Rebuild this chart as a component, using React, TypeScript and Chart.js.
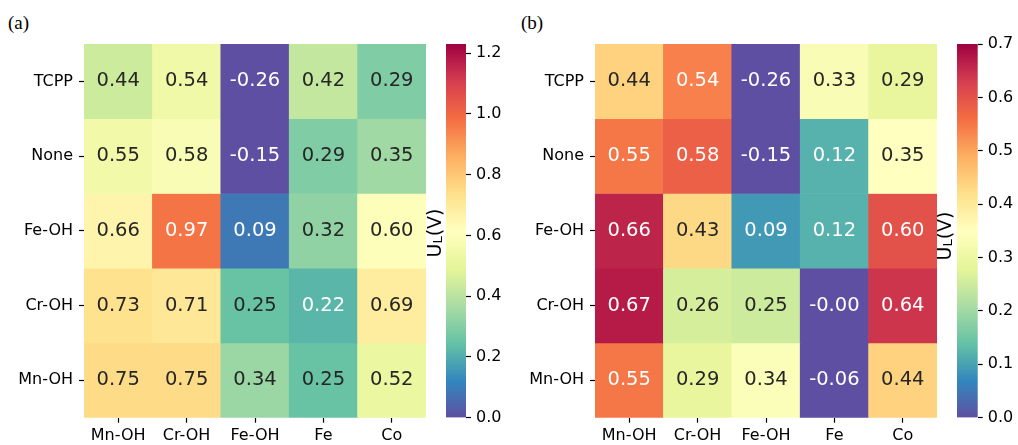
import React, { useEffect, useRef } from "react";
import { Chart, registerables } from "chart.js";

Chart.register(...registerables);

// ---------- data ----------
const ROWS = ["TCPP", "None", "Fe-OH", "Cr-OH", "Mn-OH"];
const COLS = ["Mn-OH", "Cr-OH", "Fe-OH", "Fe", "Co"];

const VALUES_A = [
  [0.44, 0.54, -0.26, 0.42, 0.29],
  [0.55, 0.58, -0.15, 0.29, 0.35],
  [0.66, 0.97, 0.09, 0.32, 0.6],
  [0.73, 0.71, 0.25, 0.22, 0.69],
  [0.75, 0.75, 0.34, 0.25, 0.52],
];

const VALUES_B = [
  [0.44, 0.54, -0.26, 0.33, 0.29],
  [0.55, 0.58, -0.15, 0.12, 0.35],
  [0.66, 0.43, 0.09, 0.12, 0.6],
  [0.67, 0.26, 0.25, -0.001, 0.64],
  [0.55, 0.29, 0.34, -0.06, 0.44],
];

const VMAX_A = 1.23;
const VMAX_B = 0.7;
const CB_TICKS_A = [0, 0.2, 0.4, 0.6, 0.8, 1.0, 1.2];
const CB_TICKS_B = [0, 0.1, 0.2, 0.3, 0.4, 0.5, 0.6, 0.7];
const CB_LABEL_MAIN = "U";
const CB_LABEL_SUB = "L";
const CB_LABEL_TAIL = "(V)";

// Spectral_r
const SPECTRAL_R = [
  "#5e4fa2", "#3288bd", "#66c2a5", "#abdda4", "#e6f598", "#ffffbf",
  "#fee08b", "#fdae61", "#f46d43", "#d53e4f", "#9e0142",
];

// ---------- helpers ----------
function hexToRgb(h: string): number[] {
  return [1, 3, 5].map((i) => parseInt(h.slice(i, i + 2), 16));
}
const STOPS = SPECTRAL_R.map(hexToRgb);

function cmapRgb(v: number, vmax: number): number[] {
  let t = v / vmax;
  if (t < 0) t = 0;
  if (t > 1) t = 1;
  const p = t * (STOPS.length - 1);
  const i = Math.min(Math.floor(p), STOPS.length - 2);
  const f = p - i;
  const a = STOPS[i];
  const b = STOPS[i + 1];
  return [0, 1, 2].map((k) => a[k] + (b[k] - a[k]) * f);
}
function rgbStr(c: number[]) {
  return `rgb(${Math.round(c[0])},${Math.round(c[1])},${Math.round(c[2])})`;
}
function luminance(c: number[]) {
  const lin = c.map((x) => {
    const s = x / 255;
    return s <= 0.03928 ? s / 12.92 : Math.pow((s + 0.055) / 1.055, 2.4);
  });
  return 0.2126 * lin[0] + 0.7152 * lin[1] + 0.0722 * lin[2];
}

const SANS = "'DejaVu Sans', sans-serif";
const TICK_SIZE = 16;
const ANNOT_SIZE = 19.5;

// ---------- heatmap ----------
type HeatProps = {
  values: number[][];
  vmax: number;
  left: number;
  width: number;
  yAxisWidth: number;
  padRight: number;
};

function Heatmap({ values, vmax, left, width, yAxisWidth, padRight }: HeatProps) {
  const ref = useRef<HTMLCanvasElement>(null);
  useEffect(() => {
    const n = ROWS.length;
    const datasets = ROWS.map((_, r) => {
      const level = n - 1 - r;
      return {
        data: COLS.map(() => [level, level + 1]),
        backgroundColor: values[r].map((v) => rgbStr(cmapRgb(v, vmax))),
        borderWidth: 0,
        barPercentage: 1,
        categoryPercentage: 1,
        grouped: false,
      };
    });
    const annot = {
      id: "annot",
      afterDatasetsDraw(chart: any) {
        const ctx = chart.ctx;
        ctx.save();
        ctx.font = `${ANNOT_SIZE}px ${SANS}`;
        ctx.textAlign = "center";
        ctx.textBaseline = "alphabetic";
        chart.data.datasets.forEach((_: any, r: number) => {
          const meta = chart.getDatasetMeta(r);
          meta.data.forEach((el: any, c: number) => {
            const v = values[r][c];
            const col = cmapRgb(v, vmax);
            ctx.fillStyle = luminance(col) > 0.408 ? "#262626" : "#ffffff";
            const cy = (el.y + el.base) / 2;
            ctx.fillText(v.toFixed(2), el.x, cy + 0.364 * ANNOT_SIZE - 2);
          });
        });
        ctx.restore();
      },
    };
    const chart = new Chart(ref.current as HTMLCanvasElement, {
      type: "bar",
      data: { labels: COLS, datasets: datasets as any },
      options: {
        animation: false,
        responsive: false,
        maintainAspectRatio: false,
        layout: { padding: { top: 44, right: padRight, bottom: 0, left: 0 } },
        plugins: { legend: { display: false }, tooltip: { enabled: false } },
        scales: {
          x: {
            type: "category",
            grid: {
              offset: false,
              drawOnChartArea: false,
              tickLength: 5,
              tickColor: "#000",
              tickWidth: 1.2,
            },
            border: { display: false },
            ticks: {
              color: "#000",
              font: { family: SANS, size: TICK_SIZE },
              padding: 4,
              maxRotation: 0,
              autoSkip: false,
            },
            afterFit: (s: any) => {
              s.height = 27.3;
            },
          },
          y: {
            type: "linear",
            min: 0,
            max: n,
            afterBuildTicks: (s: any) => {
              s.ticks = ROWS.map((_, i) => ({ value: i + 0.5 }));
            },
            grid: {
              drawOnChartArea: false,
              tickLength: 5,
              tickColor: "#000",
              tickWidth: 1.2,
            },
            border: { display: false },
            ticks: {
              color: "#000",
              font: { family: SANS, size: TICK_SIZE },
              padding: 6,
              autoSkip: false,
              callback: (_v: any, i: number) => ROWS[n - 1 - i],
            },
            afterFit: (s: any) => {
              s.width = yAxisWidth;
            },
          },
        } as any,
      },
      plugins: [annot],
    });
    return () => chart.destroy();
  }, []);
  return (
    <canvas
      ref={ref}
      width={width}
      height={445}
      style={{ position: "absolute", left, top: 0, width, height: 445 }}
    />
  );
}

// ---------- colorbar ----------
type CbProps = {
  vmax: number;
  ticks: number[];
  left: number;
  width: number;
  axisWidth: number;
  labelBaseX: number;
  labelCy: number;
};

function Colorbar({ vmax, ticks, left, width, axisWidth, labelBaseX, labelCy }: CbProps) {
  const ref = useRef<HTMLCanvasElement>(null);
  useEffect(() => {
    const labelPlugin = {
      id: "cblabel",
      afterDraw(chart: any) {
        const ctx = chart.ctx;
        ctx.save();
        const big = `19px ${SANS}`;
        const small = `13px ${SANS}`;
        ctx.font = big;
        const wU = ctx.measureText(CB_LABEL_MAIN).width;
        const wT = ctx.measureText(CB_LABEL_TAIL).width;
        ctx.font = small;
        const wL = ctx.measureText(CB_LABEL_SUB).width;
        const total = wU + wL + wT;
        ctx.translate(labelBaseX, labelCy);
        ctx.rotate(-Math.PI / 2);
        ctx.fillStyle = "#000";
        ctx.textBaseline = "alphabetic";
        ctx.textAlign = "left";
        let x = -total / 2;
        ctx.font = big;
        ctx.fillText(CB_LABEL_MAIN, x, 0);
        x += wU;
        ctx.font = small;
        ctx.fillText(CB_LABEL_SUB, x, 1.5);
        x += wL;
        ctx.font = big;
        ctx.fillText(CB_LABEL_TAIL, x, 0);
        ctx.restore();
      },
    };
    const chart = new Chart(ref.current as HTMLCanvasElement, {
      type: "bar",
      data: {
        labels: [""],
        datasets: [
          {
            data: [[0, vmax]] as any,
            backgroundColor: (c: any) => {
              const ca = c.chart.chartArea;
              if (!ca) return SPECTRAL_R[0];
              const g = c.chart.ctx.createLinearGradient(0, ca.bottom, 0, ca.top);
              SPECTRAL_R.forEach((col, i) => g.addColorStop(i / (SPECTRAL_R.length - 1), col));
              return g;
            },
            borderWidth: 0,
            barPercentage: 1,
            categoryPercentage: 1,
          },
        ],
      },
      options: {
        animation: false,
        responsive: false,
        maintainAspectRatio: false,
        layout: { padding: { top: 44, right: 0, bottom: 27.3, left: 20 } },
        plugins: { legend: { display: false }, tooltip: { enabled: false } },
        scales: {
          x: { display: false },
          y: {
            position: "right",
            min: 0,
            max: vmax,
            afterBuildTicks: (s: any) => {
              s.ticks = ticks.map((v) => ({ value: v }));
            },
            grid: {
              drawOnChartArea: false,
              tickLength: 5,
              tickColor: "#000",
              tickWidth: 1.2,
            },
            border: { display: false },
            ticks: {
              color: "#000",
              font: { family: SANS, size: TICK_SIZE },
              padding: 5,
              autoSkip: false,
              callback: (v: any) => Number(v).toFixed(1),
            },
            afterFit: (s: any) => {
              s.width = axisWidth;
            },
          },
        } as any,
      },
      plugins: [labelPlugin],
    });
    return () => chart.destroy();
  }, []);
  return (
    <canvas
      ref={ref}
      width={width}
      height={445}
      style={{ position: "absolute", left, top: 0, width, height: 445 }}
    />
  );
}

const titleStyle: React.CSSProperties = {
  position: "absolute",
  top: 13,
  fontFamily: "'Liberation Serif', 'Times New Roman', serif",
  fontSize: 19,
  lineHeight: "19px",
  color: "#000",
  whiteSpace: "nowrap",
};

export default function App() {
  return (
    <div
      style={{
        position: "absolute",
        left: 0,
        top: 0,
        width: 1018,
        height: 445,
        background: "#fff",
        overflow: "hidden",
      }}
    >
      <div style={{ ...titleStyle, left: 8 }}>(a)</div>
      <div style={{ ...titleStyle, left: 521 }}>(b)</div>
      <Heatmap values={VALUES_A} vmax={VMAX_A} left={0} width={432} yAxisWidth={84} padRight={6} />
      <Colorbar
        vmax={VMAX_A}
        ticks={CB_TICKS_A}
        left={426}
        width={94}
        axisWidth={54}
        labelBaseX={14.5}
        labelCy={233}
      />
      <Heatmap values={VALUES_B} vmax={VMAX_B} left={510} width={432} yAxisWidth={85} padRight={5} />
      <Colorbar
        vmax={VMAX_B}
        ticks={CB_TICKS_B}
        left={937}
        width={81}
        axisWidth={40.3}
        labelBaseX={13.5}
        labelCy={236}
      />
    </div>
  );
}
